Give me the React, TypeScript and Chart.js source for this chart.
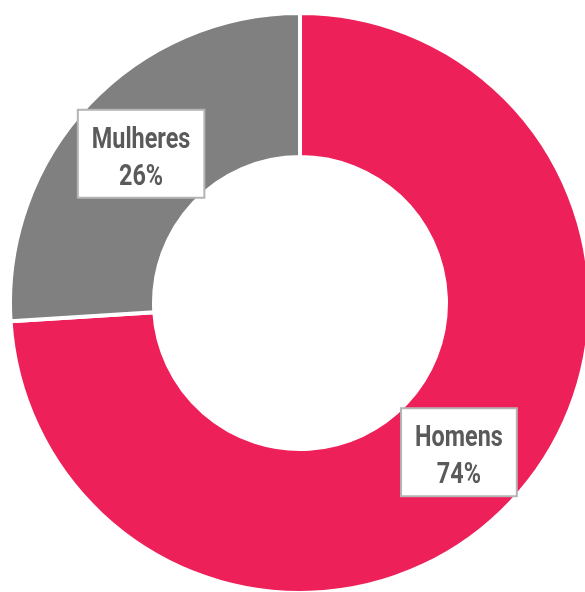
import React, { useEffect, useRef } from "react";
import { Chart, registerables } from "chart.js";

Chart.register(...registerables);

const categories = ["Homens", "Mulheres"];
const values = [74, 26];
const valueLabels = ["74%", "26%"];
const colors = ["#EE2059", "#808080"];

export default function App() {
  const ref = useRef<HTMLCanvasElement>(null);

  useEffect(() => {
    if (!ref.current) return;
    const labelPlugin = {
      id: "boxLabels",
      afterDatasetsDraw(chart: any) {
        const ctx = chart.ctx as CanvasRenderingContext2D;
        const meta = chart.getDatasetMeta(0);
        const sx = 0.78;
        ctx.save();
        ctx.font = "bold 30px Roboto, 'Liberation Sans', sans-serif";
        ctx.textAlign = "center";
        ctx.textBaseline = "alphabetic";
        meta.data.forEach((arc: any, i: number) => {
          const { x, y } = arc.tooltipPosition(false);
          const l1 = categories[i];
          const l2 = valueLabels[i];
          const tw = Math.max(ctx.measureText(l1).width, ctx.measureText(l2).width) * sx;
          const w = tw + 28;
          const h = 88;
          ctx.fillStyle = "#ffffff";
          ctx.fillRect(x - w / 2, y - h / 2, w, h);
          ctx.strokeStyle = "#b4b4b4";
          ctx.lineWidth = 2;
          ctx.strokeRect(x - w / 2, y - h / 2, w, h);
          ctx.save();
          ctx.translate(x, y);
          ctx.scale(sx, 1);
          ctx.fillStyle = "#5a5a5a";
          ctx.fillText(l1, 0, -6);
          ctx.fillText(l2, 0, 31);
          ctx.restore();
        });
        ctx.restore();
      },
    };

    const chart = new Chart(ref.current, {
      type: "doughnut",
      data: {
        labels: categories,
        datasets: [
          {
            data: values,
            backgroundColor: colors,
            borderColor: "#ffffff",
            borderWidth: 4,
            hoverBorderWidth: 4,
            hoverOffset: 0,
            offset: 0,
          },
        ],
      },
      options: {
        responsive: false,
        maintainAspectRatio: false,
        animation: false,
        events: [],
        cutout: 146,
        rotation: 0,
        layout: { padding: 0 },
        plugins: {
          legend: { display: false },
          tooltip: { enabled: false },
        },
      },
      plugins: [labelPlugin],
    });
    return () => chart.destroy();
  }, []);

  return (
    <div
      style={{
        position: "fixed",
        left: 0,
        top: 0,
        width: 585,
        height: 592,
        overflow: "hidden",
        background: "#ffffff",
      }}
    >
      <canvas
        ref={ref}
        width={584}
        height={584}
        style={{ position: "absolute", left: 8, top: 11, width: 584, height: 584 }}
      />
    </div>
  );
}
